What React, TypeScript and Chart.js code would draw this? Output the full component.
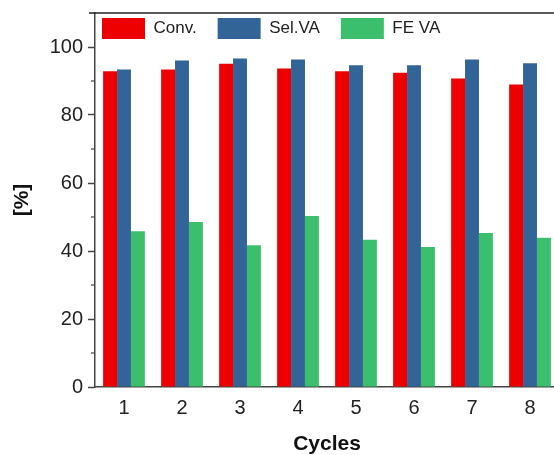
import React, { useEffect, useRef } from "react";
import { Chart, registerables } from "chart.js";

Chart.register(...registerables);

const cycles = ["1", "2", "3", "4", "5", "6", "7", "8"];
const conversion = [92.9, 93.4, 95.1, 93.7, 92.9, 92.4, 90.7, 89.0];
const selectivityVA = [93.4, 96.0, 96.6, 96.3, 94.6, 94.6, 96.3, 95.2];
const faradaicEfficiencyVA = [45.8, 48.5, 41.7, 50.3, 43.3, 41.2, 45.3, 43.9];
const seriesLabels = ["Conv.", "Sel.VA", "FE VA"];
const yMajorTicks = [0, 20, 40, 60, 80, 100];
const yMinorTicks = [10, 30, 50, 70, 90];

const FONT = "'Liberation Sans', Arial, Helvetica, sans-serif";
const LEGEND_PAD = 21;

const framePlugin = {
  id: "frame",
  beforeLayout(chart: any) {
    const lg = chart.legend;
    if (lg && !lg.__patched) {
      const orig = lg.fit.bind(lg);
      lg.fit = function () {
        orig();
        this.__realHeight = this.height;
        this.height = 0;
      };
      lg.__patched = true;
    }
  },
  afterLayout(chart: any) {
    const lg = chart.legend;
    const ca = chart.chartArea;
    if (lg && ca) {
      const w = ca.right - ca.left;
      const h = lg.__realHeight || 60;
      lg.left = ca.left + 7 - LEGEND_PAD;
      lg.right = lg.left + w;
      lg.width = w;
      lg.top = ca.top + 5 - LEGEND_PAD;
      lg.bottom = lg.top + h;
      lg.height = h;
    }
  },
  afterDraw(chart: any) {
    const { ctx, chartArea: ca, scales } = chart;
    ctx.save();
    ctx.strokeStyle = "#222";
    ctx.lineWidth = 1.5;
    ctx.beginPath();
    ctx.moveTo(ca.left - 6, ca.top);
    ctx.lineTo(ca.right + 20, ca.top);
    ctx.stroke();
    ctx.strokeStyle = "#444";
    ctx.lineWidth = 1.2;
    yMinorTicks.forEach((v) => {
      const y = scales.y.getPixelForValue(v);
      ctx.beginPath();
      ctx.moveTo(ca.left - 4, y);
      ctx.lineTo(ca.left, y);
      ctx.stroke();
    });
    ctx.restore();
  },
};

export default function App() {
  const canvasRef = useRef<HTMLCanvasElement | null>(null);

  useEffect(() => {
    if (!canvasRef.current) return;
    Chart.defaults.font.family = FONT;
    const chart = new Chart(canvasRef.current, {
      type: "bar",
      data: {
        labels: cycles,
        datasets: [
          { label: seriesLabels[0], data: conversion, backgroundColor: "#ee0000", borderWidth: 0 },
          { label: seriesLabels[1], data: selectivityVA, backgroundColor: "#336497", borderWidth: 0 },
          { label: seriesLabels[2], data: faradaicEfficiencyVA, backgroundColor: "#3cbf6d", borderWidth: 0 },
        ],
      },
      options: {
        animation: false,
        responsive: true,
        maintainAspectRatio: false,
        layout: { padding: { top: 13, right: 16, left: 6, bottom: 0 } },
        datasets: { bar: { categoryPercentage: 0.72, barPercentage: 1.0 } },
        plugins: {
          tooltip: { enabled: false },
          legend: {
            position: "top",
            align: "start",
            labels: {
              boxWidth: 43,
              boxHeight: 21,
              padding: LEGEND_PAD,
              color: "#222",
              font: { size: 17, family: FONT },
            },
          },
        },
        scales: {
          x: {
            grid: { display: false },
            border: { display: true, color: "#444", width: 1.5 },
            ticks: { color: "#222", font: { size: 20, family: FONT }, padding: 1 },
            title: {
              display: true,
              text: "Cycles",
              color: "#111",
              font: { size: 21, weight: "bold", family: FONT },
              padding: { top: 4, bottom: -2 },
            },
            afterFit: (s: any) => {
              s.height = 68;
            },
          },
          y: {
            min: 0,
            max: 110,
            ticks: {
              stepSize: 10,
              color: "#222",
              font: { size: 20, family: FONT },
              padding: 5,
              callback: (v: any) => (yMajorTicks.includes(Number(v)) ? String(v) : Number(v) === 110 ? null : ""),
            },
            grid: {
              drawOnChartArea: false,
              tickLength: 7,
              tickWidth: 1.5,
              tickColor: (c: any) =>
                c.tick && yMajorTicks.includes(Number(c.tick.value)) ? "#444" : "rgba(0,0,0,0)",
            },
            border: { color: "#444", width: 1.5 },
            title: {
              display: true,
              text: "[%]",
              color: "#111",
              font: { size: 21, weight: "bold", family: FONT },
              padding: { top: 4, bottom: 4 },
            },
            afterFit: (s: any) => {
              s.width = 95 - 6;
              s.paddingTop = 0;
            },
          },
        },
      },
      plugins: [framePlugin],
    } as any);
    return () => chart.destroy();
  }, []);

  return (
    <div style={{ position: "absolute", left: 0, top: 0, width: 554, height: 455, overflow: "hidden", background: "#fff" }}>
      <div style={{ position: "relative", width: 575, height: 455 }}>
        <canvas ref={canvasRef} />
      </div>
    </div>
  );
}
